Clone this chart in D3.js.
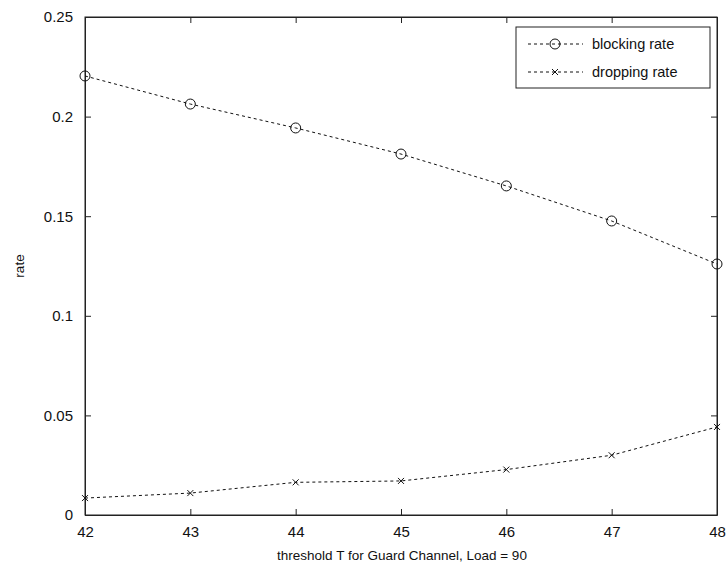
<!DOCTYPE html>
<html lang="en">
<head>
	<meta charset="utf-8" />
	<title>blocking and dropping rate</title>
	<script src="https://d3js.org/d3.v7.min.js"></script>
    <style>
        body {
            margin: 0;
            background: white;
            font-family: "Liberation Sans", Arial, sans-serif;
        }
    </style>
</head>
<body>
	<script>
    // data
    const thresholds = [42, 43, 44, 45, 46, 47, 48];
    const blocking = [0.2204, 0.2063, 0.1943, 0.1812, 0.1652, 0.1476, 0.1260];
    const dropping = [0.0085, 0.0110, 0.0164, 0.0171, 0.0228, 0.0300, 0.0442];
    const yTicks = [0, 0.05, 0.1, 0.15, 0.2, 0.25];
    const seriesNames = ["blocking rate", "dropping rate"];

    const W = 728, H = 572;
    const mLeft = 85, mRight = 717, mTop = 17, mBottom = 515;

    let svg = d3.select("body")
        .append("svg")
        .attr("width", W)
        .attr("height", H);

    let x = d3.scaleLinear().domain([42, 48]).range([mLeft, mRight]);
    let y = d3.scaleLinear().domain([0, 0.25]).range([mBottom, mTop]);

    const tickLen = 6;
    const fmt = d => d === 0 ? "0" : String(+d.toFixed(2));

    // axes: bottom and left with labels, top and right mirrored ticks inward
    let xAxis = d3.axisBottom(x).tickValues(thresholds).tickSizeInner(-tickLen).tickSizeOuter(0).tickPadding(11).tickFormat(d3.format("d"));
    let xTop = d3.axisTop(x).tickValues(thresholds).tickSizeInner(-tickLen).tickSizeOuter(0).tickFormat("");
    let yAxis = d3.axisLeft(y).tickValues(yTicks).tickSizeInner(-tickLen).tickSizeOuter(0).tickPadding(12).tickFormat(fmt);
    let yRight = d3.axisRight(y).tickValues(yTicks).tickSizeInner(-tickLen).tickSizeOuter(0).tickFormat("");

    svg.append("g").attr("transform", `translate(0,${mBottom})`).call(xAxis);
    svg.append("g").attr("transform", `translate(0,${mTop})`).call(xTop);
    svg.append("g").attr("transform", `translate(${mLeft},0)`).call(yAxis);
    svg.append("g").attr("transform", `translate(${mRight},0)`).call(yRight);

    svg.selectAll(".tick text")
        .attr("font-family", "Liberation Sans, Arial, sans-serif")
        .attr("font-size", 15)
        .attr("fill", "#111");
    svg.selectAll(".domain, .tick line").attr("stroke", "#222").attr("stroke-width", 1);

    // box
    svg.append("rect")
        .attr("x", mLeft).attr("y", mTop)
        .attr("width", mRight - mLeft).attr("height", mBottom - mTop)
        .attr("fill", "none").attr("stroke", "#222");

    // axis labels
    svg.append("text")
        .text("threshold T for Guard Channel, Load = 90")
        .attr("x", 402).attr("y", 560)
        .attr("text-anchor", "middle")
        .attr("font-size", 13.5).attr("fill", "#111");
    svg.append("text")
        .text("rate")
        .attr("transform", `translate(24,${(mTop + mBottom) / 2}) rotate(-90)`)
        .attr("text-anchor", "middle")
        .attr("font-size", 13.5).attr("fill", "#111");

    let line = d3.line().x(d => x(d[0])).y(d => y(d[1]));

    const series = [blocking, dropping];
    series.forEach(function(vals, i) {
        let pts = thresholds.map((t, j) => [t, vals[j]]);
        svg.append("path")
            .datum(pts)
            .attr("d", line)
            .attr("fill", "none")
            .attr("stroke", "#111")
            .attr("stroke-width", 1)
            .attr("stroke-dasharray", "3,3");
        let g = svg.append("g");
        pts.forEach(function(p) {
            drawMarker(g, i, x(p[0]), y(p[1]));
        });
    });

    function drawMarker(g, kind, cx, cy) {
        if (kind === 0) {
            g.append("circle")
                .attr("cx", cx).attr("cy", cy).attr("r", 5)
                .attr("fill", "none").attr("stroke", "#111").attr("stroke-width", 1);
        } else {
            g.append("path")
                .attr("d", `M${cx - 3},${cy - 3}L${cx + 3},${cy + 3}M${cx - 3},${cy + 3}L${cx + 3},${cy - 3}`)
                .attr("stroke", "#111").attr("stroke-width", 1);
        }
    }

    // legend
    let lg = svg.append("g");
    lg.append("rect")
        .attr("x", 516).attr("y", 27).attr("width", 194).attr("height", 61)
        .attr("fill", "white").attr("stroke", "#222");
    seriesNames.forEach(function(name, i) {
        let ly = 44 + i * 28;
        lg.append("line")
            .attr("x1", 528).attr("x2", 583).attr("y1", ly).attr("y2", ly)
            .attr("stroke", "#111").attr("stroke-dasharray", "3,3");
        drawMarker(lg, i, 555, ly);
        lg.append("text")
            .text(name)
            .attr("x", 592).attr("y", ly + 5)
            .attr("font-size", 14.5).attr("fill", "#111");
    });
	</script>
</body>
</html>
